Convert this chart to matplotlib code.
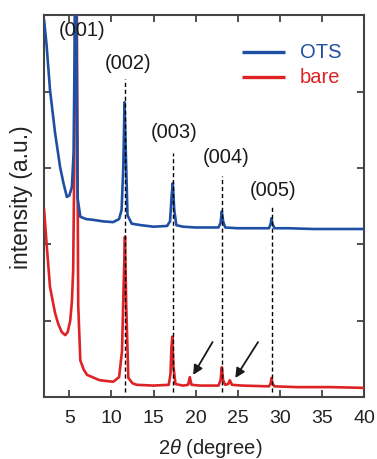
import matplotlib
matplotlib.use('Agg')
import matplotlib.pyplot as plt

plt.rcParams['font.family'] = ['Liberation Sans', 'DejaVu Sans']
plt.rcParams['mathtext.fontset'] = 'custom'
plt.rcParams['mathtext.rm'] = 'Liberation Sans'
plt.rcParams['mathtext.it'] = 'Liberation Sans:italic'

# OTS-treated sample (blue)
ots_2theta = [2.0, 2.3, 2.7, 3.3, 3.9, 4.3, 4.7, 5.0, 5.3, 5.5, 5.62, 5.75, 5.88, 5.98, 6.3,
              7.0, 7.8, 9.0, 10.2, 10.9, 11.2, 11.4, 11.55, 11.7, 11.9, 12.4, 13.5, 15.0,
              16.6, 16.95, 17.15, 17.28, 17.45, 17.7, 18.5, 20.0, 21.5, 22.7, 22.95, 23.1,
              23.25, 23.5, 25.0, 27.0, 28.7, 28.9, 29.0, 29.1, 29.35, 31.0, 34.0, 37.0, 40.0]
ots_int = [4.93, 4.6, 4.02, 3.46, 3.01, 2.8, 2.62, 2.64, 2.75, 3.2, 4.5, 6.5, 4.2, 2.6, 2.36,
           2.33, 2.32, 2.3, 2.29, 2.33, 2.45, 3.0, 3.86, 3.2, 2.38, 2.27, 2.25, 2.23,
           2.24, 2.3, 2.65, 2.8, 2.45, 2.25, 2.23, 2.22, 2.22, 2.22, 2.28, 2.43,
           2.3, 2.22, 2.21, 2.21, 2.21, 2.27, 2.34, 2.27, 2.21, 2.21, 2.2, 2.2, 2.2]

# bare substrate sample (red)
bare_2theta = [2.0, 2.3, 2.7, 3.3, 3.7, 4.1, 4.5, 4.8, 5.1, 5.3, 5.45, 5.58, 5.7, 5.82, 5.95,
               6.05, 6.3, 6.7, 7.1, 8.6, 10.2, 10.9, 11.25, 11.45, 11.6, 11.75, 12.0, 12.5,
               13.0, 15.0, 16.8, 17.0, 17.12, 17.22, 17.35, 17.6, 18.5, 19.1, 19.3, 19.5,
               20.5, 22.7, 22.95, 23.1, 23.25, 23.5, 23.85, 24.05, 24.3, 25.5, 28.7, 28.9,
               29.0, 29.1, 29.35, 32.0, 36.0, 40.0]
bare_int = [2.45, 2.0, 1.44, 1.1, 0.95, 0.85, 0.81, 0.85, 1.0, 1.25, 1.66, 3.0, 5.5, 6.5, 3.5,
            1.2, 0.48, 0.36, 0.29, 0.22, 0.2, 0.26, 0.6, 1.5, 2.1, 1.2, 0.25, 0.18,
            0.16, 0.15, 0.16, 0.3, 0.65, 0.79, 0.4, 0.17, 0.15, 0.16, 0.26, 0.16,
            0.15, 0.15, 0.22, 0.39, 0.22, 0.16, 0.17, 0.22, 0.16, 0.15, 0.14, 0.18,
            0.25, 0.18, 0.14, 0.13, 0.13, 0.12]

# reflections: position, dashed line top, label position
refl_labels = ['(001)', '(002)', '(003)', '(004)', '(005)']
refl_pos = [5.75, 11.6, 17.3, 23.1, 29.0]
dash_top = [None, 4.17, 3.19, 2.9, 2.49]
label_x = [6.5, 12.0, 17.4, 23.6, 29.2]
label_y = [4.8, 4.37, 3.46, 3.13, 2.71]

# arrows pointing at the extra peaks of the bare sample
arrow_tail = [(22.0, 0.72), (27.4, 0.72)]
arrow_head = [(19.7, 0.29), (24.7, 0.25)]

samples = ['OTS', 'bare']
blue = '#1f4fa3'
red = '#dd2326'

fig = plt.figure(figsize=(3.77, 4.59), dpi=100)
ax = fig.add_axes([0.117, 0.135, 0.849, 0.832])

ax.plot(bare_2theta, bare_int, color=red, lw=1.9, zorder=3)
ax.plot(ots_2theta, ots_int, color=blue, lw=1.9, zorder=4)

for pos, top in zip(refl_pos, dash_top):
    if top is None:
        continue
    ax.plot([pos, pos], [0.07, top], color='black', lw=1.0, ls=(0, (3, 2)), zorder=5)

for lab, lx, ly in zip(refl_labels, label_x, label_y):
    ax.text(lx, ly, lab, ha='center', va='center', fontsize=14.5, color='#1a1a1a', zorder=6)

for tail, head in zip(arrow_tail, arrow_head):
    ax.annotate('', xy=head, xytext=tail,
                arrowprops=dict(arrowstyle='-|>', color='#1a1a1a', lw=1.3,
                                mutation_scale=14, shrinkA=0, shrinkB=0))

# legend drawn by hand
for name, col, ly in zip(samples, [blue, red], [0.903, 0.838]):
    ax.plot([0.619, 0.753], [ly, ly], color=col, lw=2.4, transform=ax.transAxes,
            solid_capstyle='butt')
    ax.text(0.8, ly, name, color=col, fontsize=14.5, va='center', ha='left',
            transform=ax.transAxes)

ax.set_xlim(2, 40)
ax.set_ylim(0, 5)
ax.set_xticks([5, 10, 15, 20, 25, 30, 35, 40])
ax.set_yticks([1, 2, 3, 4])
ax.set_yticklabels([])
ax.tick_params(direction='in', top=True, right=True, length=5, width=1.2,
               labelsize=14, colors='#333333', labelcolor='#222222', pad=9)
for sp in ax.spines.values():
    sp.set_linewidth(1.5)
    sp.set_color('#444444')

ax.set_xlabel(r'2$\theta$ (degree)', fontsize=14.5, color='#222222', va='center')
ax.xaxis.set_label_coords(0.52, -0.134)
ax.set_ylabel('intensity (a.u.)', fontsize=16.5, color='#222222', va='center')
ax.yaxis.set_label_coords(-0.072, 0.524)

fig.savefig('out.png', dpi=100)
